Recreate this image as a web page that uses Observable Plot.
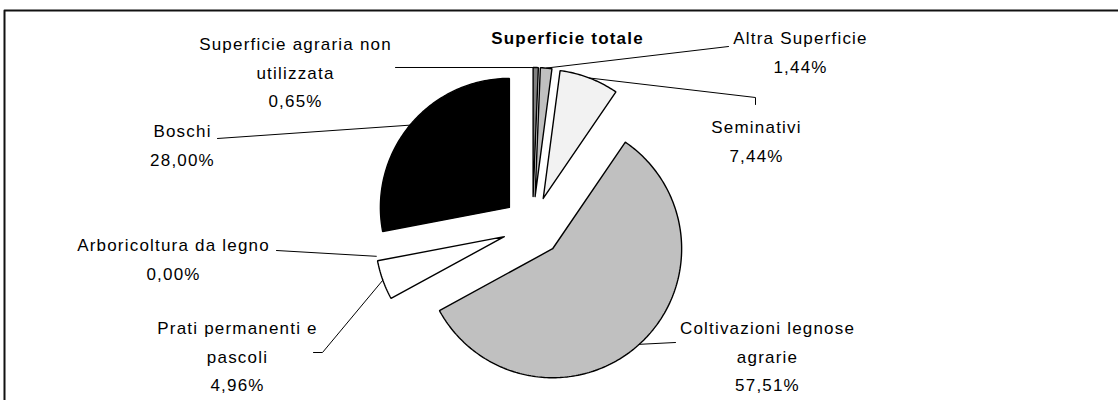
<!DOCTYPE html>
<html>
<head>
<meta charset="utf-8">
<script src="https://cdn.jsdelivr.net/npm/d3@7"></script>
<script src="https://cdn.jsdelivr.net/npm/@observablehq/plot@0.6"></script>
<style>
  html, body { margin: 0; padding: 0; background: #fff; overflow: hidden; }
  #chart svg { display: block; }
  #chart svg text { letter-spacing: 1.2px; }
</style>
</head>
<body>
<div id="chart"></div>
<script>
// ---- data ----
const chartTitle = "Superficie totale";
const categories = [
  "Superficie agraria non\nutilizzata",
  "Altra Superficie",
  "Seminativi",
  "Coltivazioni legnose\nagrarie",
  "Prati permanenti e\npascoli",
  "Arboricoltura da legno",
  "Boschi"
];
const shares = [0.65, 1.44, 7.44, 57.51, 4.96, 0.00, 28.00];

// ---- styles ----
const sliceFill = ["#808080", "#c0c0c0", "#f2f2f2", "#c0c0c0", "#ffffff", "#ffffff", "#000000"];

// ---- layout ----
const W = 1118, H = 400;
const pie = {cx: 532, cy: 226, r: 129, explode: 30};
const labelAt = [[295, 69], [800, 49], [756, 138], [767, 353], [237, 353], [173, 256], [182, 142]];
const leaderVia = [
  [[395, 67]],
  [[728, 46]],
  [[755, 97], [755, 104]],
  [[675, 342]],
  [[322, 352], [313, 352]],
  [[276, 250]],
  [[217, 138]]
];
const frameCorner = {x: 4, y: 10};

const fmt = v => v.toFixed(2).replace(".", ",") + "%";
const arcs = d3.pie().sort(null).value(d => d)(shares);
const pt = (x0, y0, r, a) => ({x: x0 + r * Math.sin(a), y: y0 - r * Math.cos(a)});

const slicePolys = [];
const leaders = [];
const labels = [];
arcs.forEach((a, i) => {
  const mid = (a.startAngle + a.endAngle) / 2;
  const v = pt(pie.cx, pie.cy, pie.explode, mid);
  if (a.endAngle - a.startAngle > 0) {
    const n = Math.max(2, Math.ceil((a.endAngle - a.startAngle) / (Math.PI / 180)));
    const pts = [{...v}];
    for (let k = 0; k <= n; k++) {
      const t = a.startAngle + (a.endAngle - a.startAngle) * k / n;
      pts.push(pt(v.x, v.y, pie.r, t));
    }
    pts.push({...v});
    slicePolys.push({i, pts});
  }
  const outer = pt(v.x, v.y, pie.r, mid);
  leaders.push({id: i, ...outer});
  leaderVia[i].forEach(([x, y]) => leaders.push({id: i, x, y}));
  labels.push({x: labelAt[i][0], y: labelAt[i][1], text: categories[i] + "\n" + fmt(shares[i])});
});

const framePts = [
  {x: frameCorner.x, y: H + 5},
  {x: frameCorner.x, y: frameCorner.y},
  {x: W + 5, y: frameCorner.y}
];

const font = "'Liberation Sans', Arial, Helvetica, sans-serif";

const chart = Plot.plot({
  width: W,
  height: H,
  margin: 0,
  clip: true,
  style: {background: "#fff", fontFamily: font},
  x: {domain: [0, W], range: [0, W], axis: null},
  y: {domain: [0, H], range: [0, H], axis: null},
  marks: [
    Plot.line(framePts, {x: "x", y: "y", stroke: "#111", strokeWidth: 2}),
    ...slicePolys.map(s => Plot.line(s.pts, {
      x: "x", y: "y", fill: sliceFill[s.i], stroke: "#000", strokeWidth: 1.4, strokeLinejoin: "miter"
    })),
    Plot.line(leaders, {x: "x", y: "y", z: "id", stroke: "#000", strokeWidth: 1}),
    Plot.text(labels, {
      x: "x", y: "y", text: "text", fontSize: 17, lineHeight: 1.68,
      lineAnchor: "middle", textAnchor: "middle", fill: "#000"
    }),
    Plot.text([chartTitle], {
      x: () => 567, y: () => 38, text: d => d, fontSize: 17, fontWeight: "bold",
      lineAnchor: "middle", textAnchor: "middle", fill: "#000"
    })
  ]
});
document.getElementById("chart").appendChild(chart);
</script>
</body>
</html>
